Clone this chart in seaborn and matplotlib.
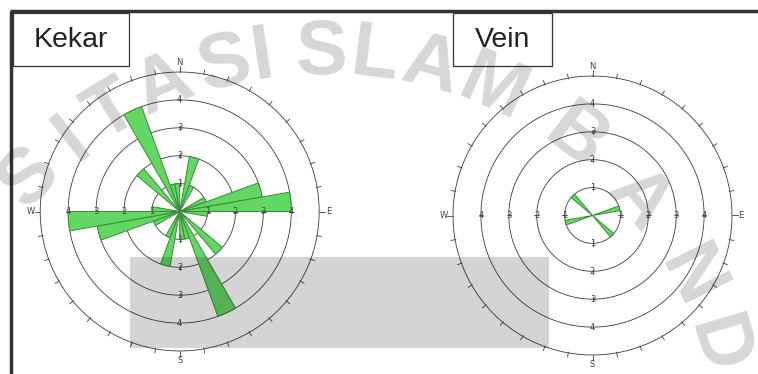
import numpy as np
import matplotlib
matplotlib.use('Agg')
import matplotlib.pyplot as plt
from matplotlib.patches import Rectangle
import seaborn as sns

# rose data: start azimuth of each 10 deg class (0-180), number of readings
# (bidirectional, the opposite petal is drawn from the same numbers)
kekar_bins = [10, 20, 60, 70, 80, 90, 130, 150, 160, 170]
kekar_counts = [2, 1, 1, 3, 4, 1, 2, 4, 1, 1]
vein_bins = [70, 130]
vein_counts = [1, 1]
ring_labels = ['1', '2', '3', '4']
compass = ['N', 'E', 'S', 'W']
titles = ['Kekar', 'Vein']

# watermark letters along an arc (angle in degrees)
wm_letters = ['S', 'I', 'T', 'A', 'S', 'I', 'S', 'L', 'A', 'M', 'B', 'A', 'N', 'D']
wm_angles = [135.9, 127.8, 121.1, 113.1, 104.0, 98.6, 90.3, 82.9, 75.0, 65.7,
             52.2, 40.0, 26.8, 16.6]

sns.set_theme(style='white')
plt.rcParams['font.family'] = ['Liberation Sans', 'DejaVu Sans']

W, H = 758, 374
fig = plt.figure(figsize=(W / 100, H / 100), dpi=100)
unit = 27.9
rmax = 5.6
line_c = '#3c3c3c'


def rose(cx, cy, bins, counts):
    size = 2 * rmax * unit
    ax = fig.add_axes([(cx - size / 2) / W, (H - cy - size / 2) / H, size / W, size / H],
                      projection='polar')
    ax.set_theta_zero_location('N')
    ax.set_theta_direction(-1)
    ax.set_ylim(0, rmax)
    ax.axis('off')
    th = np.deg2rad(np.r_[bins, np.array(bins) + 180])
    rr = np.r_[counts, counts]
    ax.bar(th, rr, width=np.deg2rad(10), align='edge', color='#62d862',
           edgecolor='#3a8a3a', linewidth=0.7, zorder=3)
    t = np.linspace(0, 2 * np.pi, 400)
    for k in range(1, 6):
        ax.plot(t, np.full_like(t, k), color=line_c, lw=0.6, zorder=2)
    for a in range(0, 360, 10):
        if a % 90 == 0:
            ax.plot([np.deg2rad(a)] * 2, [5, 5.2], color=line_c, lw=0.6)
        else:
            ax.plot([np.deg2rad(a)] * 2, [4.97, 5.15], color=line_c, lw=0.6)
    for a, lab in zip([0, 90, 180, 270], compass):
        ax.text(np.deg2rad(a), 5.33, lab, ha='center', va='center', fontsize=6,
                color='#444444', family='DejaVu Sans')
        for k, rl in enumerate(ring_labels, start=1):
            ax.plot([np.deg2rad(a)] * 2, [k - 0.08, k + 0.08], color=line_c, lw=0.6)
            ax.text(np.deg2rad(a), k, rl, ha='center', va='center', fontsize=6,
                    color='#444444', family='DejaVu Sans', zorder=4)
    return ax


rose(179.7, 211.5, kekar_bins, kekar_counts)
rose(592.5, 215.5, vein_bins, vein_counts)

ov = fig.add_axes([0, 0, 1, 1], zorder=10)
ov.set_xlim(0, W)
ov.set_ylim(H, 0)
ov.axis('off')
ov.patch.set_alpha(0)

# frame lines
ov.plot([9.5, W], [11, 11], color='#333333', lw=2.5, solid_capstyle='butt')
ov.plot([11, 11], [11, H], color='#333333', lw=2.5, solid_capstyle='butt')

# title boxes
for (x0, x1), name in zip([(12.5, 129), (452.5, 552)], titles):
    ov.add_patch(Rectangle((x0, 12.5), x1 - x0, 53, facecolor='white',
                           edgecolor='#333333', lw=0.9))
    ov.text((x0 + x1) / 2, 40, name, ha='center', va='center', fontsize=20.5,
            color='#222222')

# grey overlay block
ov.add_patch(Rectangle((130, 257), 419, 91, facecolor='black', alpha=0.17, lw=0))

# watermark
cxw, cyw, rw = 324, 463, 410
for ch, ang in zip(wm_letters, wm_angles):
    a = np.deg2rad(ang)
    ov.text(cxw + rw * np.cos(a), cyw - rw * np.sin(a), ch, rotation=ang - 90,
            rotation_mode='anchor', ha='center', va='center', fontsize=56,
            fontweight='bold', color='black', alpha=0.16, family='Liberation Sans')

fig.savefig('out.png', dpi=100)
